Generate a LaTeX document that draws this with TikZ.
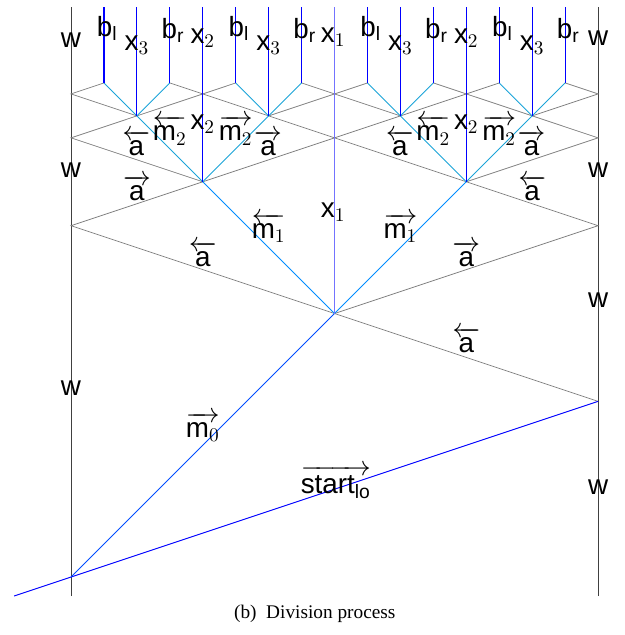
\documentclass[tikz,border=0pt]{standalone}
\usepackage{amsmath}
\usepackage{fontspec}
\setsansfont{Liberation Sans}
\newfontfamily\capfont{Liberation Serif}
\usetikzlibrary{positioning}

% signal names
\newcommand{\sgr}[1]{\ensuremath{\overrightarrow{\mathsf{#1}}}}
\newcommand{\sgl}[1]{\ensuremath{\overleftarrow{\mathsf{#1}}}}
\newcommand{\sgn}[1]{\ensuremath{\mathsf{#1}}}

\begin{document}
\begin{tikzpicture}[x=1.2cm, y=1.2cm,
  wall/.style={black!75, line width=0.5pt},
  asig/.style={gray, line width=0.4pt},
  startsig/.style={blue, line width=0.5pt},
  mzero/.style={blue!70!cyan, line width=0.5pt},
  mone/.style={blue!45!cyan, line width=0.5pt},
  mtwo/.style={cyan!88!black, line width=0.5pt},
  xone/.style={blue!55, line width=0.6pt},
  xsig/.style={blue, line width=0.6pt},
  lbl/.style={font=\Large, inner sep=0pt}]
  \useasboundingbox (-1.078,-0.88) rectangle (8.395,8.759);

  % Meeting points
  \coordinate (top) at (0,8.65);
  \coordinate (bot) at (0,-0.29);
  \coordinate (st) at (-0.864,-0.288);
  \coordinate (s0) at (0,0);
  \coordinate (s1) at (8,8/3);
  \coordinate (c0) at (4,4);
  \coordinate (l1) at (0,16/3);
  \coordinate (r1) at (8,16/3);
  \coordinate (c1a) at (2,6);
  \coordinate (c1b) at (6,6);
  \coordinate (l2) at (0,20/3);
  \coordinate (m2) at (4,20/3);
  \coordinate (r2) at (8,20/3);
  \foreach \k [count=\i] in {1,3,5,7}
    \coordinate (c2-\i) at (\k,7);
  \foreach \k in {0,...,4}
    \coordinate (h\k) at (2*\k,22/3);
  \foreach \k in {1,...,8}
    \coordinate (c3-\k) at (\k-0.5,7.5);

  % Walls
  \draw[wall] (bot) -- (top);
  \draw[wall] (bot -| s1) -- (top -| s1);

  % Signal a bouncing
  \draw[asig] (s1) -- (c0) -- (l1) -- (c1a) -- (l2) -- (c2-1) -- (h0) -- (c3-1);
  \draw[asig] (c0) -- (r1) -- (c1b) -- (r2) -- (c2-4) -- (h4) -- (c3-8);
  \draw[asig] (c1a) -- (m2) -- (c2-2) -- (h1) -- (c3-3);
  \draw[asig] (c1b) -- (m2) -- (c2-3) -- (h3) -- (c3-6);
  \draw[asig] (c2-1) -- (h1) -- (c3-2);
  \draw[asig] (c2-2) -- (h2) -- (c3-4);
  \draw[asig] (c2-3) -- (h2) -- (c3-5);
  \draw[asig] (c2-4) -- (h3) -- (c3-7);

  % Start and m signals
  \draw[startsig] (st) -- (s0) -- (s1);
  \draw[mzero] (s0) -- (c0);
  \draw[mone] (c1a) -- (c0) -- (c1b);
  \draw[mtwo] (c2-1) -- (c1a) -- (c2-2);
  \draw[mtwo] (c2-3) -- (c1b) -- (c2-4);
  \foreach \i [evaluate=\i as \j using int(2*\i-1), evaluate=\i as \k using int(2*\i)] in {1,...,4}
    \draw[mtwo] (c3-\j) -- (c2-\i) -- (c3-\k);

  % Stationary signals
  \draw[xone] (c0) -- (c0 |- top);
  \draw[xsig] (c1a) -- (c1a |- top);
  \draw[xsig] (c1b) -- (c1b |- top);
  \foreach \i in {1,...,4}
    \draw[xsig] (c2-\i) -- (c2-\i |- top);
  \foreach \i in {1,...,8}
    \draw[xsig] (c3-\i) -- (c3-\i |- top);

  % Labels on the walls
  \node[lbl] (wl1) at (0,8.15) {\sgn{w}};
  \node[lbl] (wl2) at (0,6.18) {\sgn{w}};
  \node[lbl] (wl3) at (0,2.87) {\sgn{w}};
  \node[lbl] (wr1) at (8,8.18) {\sgn{w}};
  \node[lbl] (wr2) at (8,6.18) {\sgn{w}};
  \node[lbl] (wr3) at (8,4.2) {\sgn{w}};
  \node[lbl] (wr4) at (8,1.37) {\sgn{w}};

  % Labels at the top
  \foreach \k in {0.5,2.5,4.5,6.5}
    \node[lbl] (bl\k) at (\k+0.05,8.33) {$\mathsf{b}_\mathsf{l}$};
  \foreach \k in {1.5,3.5,5.5,7.5}
    \node[lbl] (br\k) at (\k+0.05,8.30) {$\mathsf{b}_\mathsf{r}$};
  \foreach \k in {1,3,5,7}
    \node[lbl] (xt\k) at (\k,8.07) {$\mathsf{x}_3$};
  \node[lbl] (xtop2a) at (2,8.18) {$\mathsf{x}_2$};
  \node[lbl] (xtop2b) at (6,8.18) {$\mathsf{x}_2$};
  \node[lbl] (xtop1) at (3.98,8.2) {$\mathsf{x}_1$};

  % Labels of the level 2 cells
  \node[lbl] (ml2a) at (1.5,6.78) {$\overleftarrow{\mathsf{m}_2}$};
  \node[lbl] (x2a) at (2.0,6.87) {$\mathsf{x}_2$};
  \node[lbl] (mr2a) at (2.5,6.78) {$\overrightarrow{\mathsf{m}_2}$};
  \node[lbl] (al2a) at (0.99,6.59) {\sgl{a}};
  \node[lbl] (ar2a) at (2.99,6.59) {\sgr{a}};
  \node[lbl] (ml2b) at (5.5,6.78) {$\overleftarrow{\mathsf{m}_2}$};
  \node[lbl] (x2b) at (6.0,6.87) {$\mathsf{x}_2$};
  \node[lbl] (mr2b) at (6.5,6.78) {$\overrightarrow{\mathsf{m}_2}$};
  \node[lbl] (al2b) at (4.99,6.59) {\sgl{a}};
  \node[lbl] (ar2b) at (6.99,6.59) {\sgr{a}};

  % Labels of the level 1 cells
  \node[lbl] (ar1a) at (1.0,5.9) {\sgr{a}};
  \node[lbl] (al1b) at (7.0,5.9) {\sgl{a}};
  \node[lbl] (ml1) at (3.0,5.3) {$\overleftarrow{\mathsf{m}_1}$};
  \node[lbl] (x1) at (3.98,5.54) {$\mathsf{x}_1$};
  \node[lbl] (mr1) at (5.0,5.3) {$\overrightarrow{\mathsf{m}_1}$};
  \node[lbl] (al0) at (2.0,4.9) {\sgl{a}};
  \node[lbl] (ar0) at (6.0,4.9) {\sgr{a}};
  \node[lbl] (alst) at (6.0,3.6) {\sgl{a}};

  % Start
  \node[lbl] (m0) at (2.0,2.28) {$\overrightarrow{\mathsf{m}_0}$};
  \node[lbl] (start) at (4.02,1.44) {$\overrightarrow{\mathsf{start}_\mathsf{lo}}$};

  % Caption
  \node[font=\capfont] (cap) at (3.70,-0.56) {(b)\hspace{0.5em}Division process};
\end{tikzpicture}
\end{document}
